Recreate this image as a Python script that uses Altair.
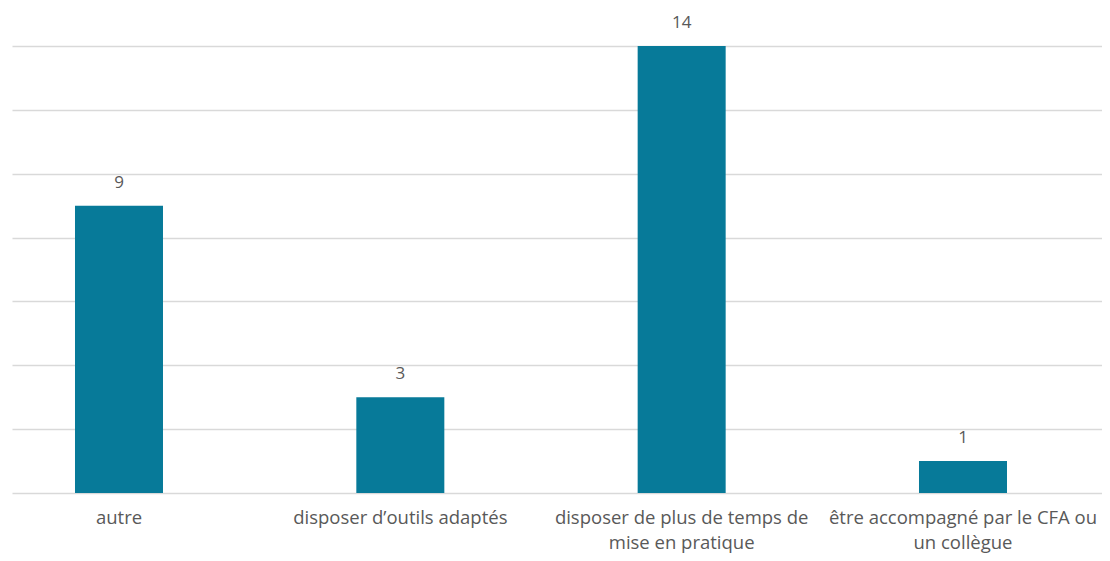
import altair as alt
import pandas as pd

categories = [
    "autre",
    "disposer d\u2019outils adaptés",
    "disposer de plus de temps de\nmise en pratique",
    "être accompagné par le CFA ou\nun collègue",
]
values = [9, 3, 14, 1]

df = pd.DataFrame({"cat": categories, "val": values})

FONT = "Open Sans"
TXT = "#595959"

x = alt.X(
    "cat:N",
    sort=categories,
    title=None,
    scale=alt.Scale(paddingInner=0.6872, paddingOuter=0.2808, align=0.3987),
    axis=alt.Axis(
        labelAngle=0,
        labelExpr="split(datum.label, '\\n')",
        labelFont=FONT,
        labelFontSize=18.5,
        labelColor=TXT,
        labelPadding=15,
        labelLineHeight=25,
        labelLimit=400,
        ticks=False,
        domain=False,
        grid=False,
    ),
)
y = alt.Y(
    "val:Q",
    title=None,
    scale=alt.Scale(domain=[0, 14], nice=False),
    axis=alt.Axis(
        values=[0, 2, 4, 6, 8, 10, 12, 14],
        labels=False,
        ticks=False,
        domain=False,
        grid=True,
        gridColor="#D9D9D9",
        gridWidth=1.3,
    ),
)

bars = alt.Chart(df).mark_bar(color="#077A99").encode(x=x, y=y)
text = alt.Chart(df).mark_text(
    dy=-23, font=FONT, fontSize=17, color=TXT, baseline="middle"
).encode(x=x, y=y, text="val:Q")

chart = (
    alt.layer(bars, text)
    .properties(
        width=1090,
        height=447,
        autosize=alt.AutoSizeParams(type="none"),
        padding={"left": 4, "top": 38, "right": 0, "bottom": 60},
    )
    .configure_view(stroke=None)
)

chart.save("out.html", embed_options={"renderer": "svg", "actions": False})
